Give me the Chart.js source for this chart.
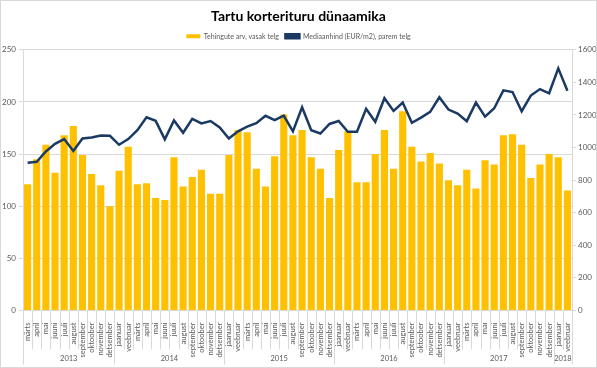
<!DOCTYPE html>
<html>
<head>
<meta charset="utf-8">
<script src="https://cdn.jsdelivr.net/npm/chart.js@4"></script>
<style>
  html, body { margin: 0; padding: 0; background: #ffffff; }
  #c { display: block; }
</style>
</head>
<body>
<canvas id="c" width="597" height="368"></canvas>
<script>
const monthLabels = [
  'märts','april','mai','juuni','juuli','august','september','oktoober','november','detsember',
  'jaanuar','veebruar','märts','april','mai','juuni','juuli','august','september','oktoober','november','detsember',
  'jaanuar','veebruar','märts','april','mai','juuni','juuli','august','september','oktoober','november','detsember',
  'jaanuar','veebruar','märts','april','mai','juuni','juuli','august','september','oktoober','november','detsember',
  'jaanuar','veebruar','märts','april','mai','juuni','juuli','august','september','oktoober','november','detsember',
  'jaanuar','veebruar'
];
const yearLabels = ['2013','2014','2015','2016','2017','2018'];
const yearSpans = [10, 12, 12, 12, 12, 2];

const transactions = [
  121,145,159,132,168,177,149,131,120,100,
  134,157,121,122,108,106,147,119,128,135,112,112,
  149,173,171,136,119,148,188,168,173,147,136,108,
  154,172,123,123,150,173,136,191,157,143,151,141,
  125,120,135,117,144,140,168,169,159,127,140,150,
  147,115
];
const medianPrice = [
  907,913,976,1023,1052,979,1056,1062,1074,1072,
  1017,1052,1107,1186,1164,1050,1166,1091,1176,1148,1163,1124,
  1056,1100,1128,1150,1195,1168,1196,1099,1247,1106,1086,1145,
  1163,1097,1097,1238,1158,1303,1225,1276,1152,1184,1219,1309,
  1233,1209,1162,1276,1190,1241,1351,1341,1223,1319,1359,1333,
  1486,1349
];
const leftTicks = [0, 50, 100, 150, 200, 250];
const rightTicks = [0, 200, 400, 600, 800, 1000, 1200, 1400, 1600];

const FONT = 'Lato, "Open Sans", sans-serif';
const GRID = '#D9D9D9';
const TXT = '#595959';

const yearPlugin = {
  id: 'yearGroups',
  afterDraw(chart) {
    const x = chart.scales.x;
    const ctx = chart.ctx;
    const half = (x.getPixelForValue(1) - x.getPixelForValue(0)) / 2;
    const top = chart.chartArea.bottom;
    const edge = i => x.getPixelForValue(i) - half;
    ctx.save();
    ctx.strokeStyle = GRID;
    ctx.lineWidth = 1;
    for (let i = 0; i <= monthLabels.length; i++) {
      const px = Math.round(edge(i)) + 0.5;
      ctx.beginPath();
      ctx.moveTo(px, top);
      ctx.lineTo(px, top + 39);
      ctx.stroke();
    }
    let start = 0;
    ctx.fillStyle = TXT;
    ctx.font = '7.5px ' + FONT;
    ctx.textAlign = 'center';
    ctx.textBaseline = 'middle';
    const drawSep = i => {
      const px = Math.round(edge(i)) + 0.5;
      ctx.beginPath();
      ctx.moveTo(px, top);
      ctx.lineTo(px, top + 54);
      ctx.stroke();
    };
    drawSep(0);
    yearLabels.forEach((lab, k) => {
      const end = start + yearSpans[k];
      drawSep(end);
      ctx.fillText(lab, (edge(start) + edge(end)) / 2, top + 48);
      start = end;
    });
    ctx.strokeStyle = GRID;
    ctx.strokeRect(0.5, 0.5, chart.width - 1, chart.height - 1);
    ctx.restore();
  }
};

new Chart(document.getElementById('c'), {
  type: 'bar',
  data: {
    labels: monthLabels,
    datasets: [
      {
        type: 'bar',
        label: 'Tehingute arv, vasak telg',
        data: transactions,
        backgroundColor: '#FFC000',
        borderWidth: 0,
        yAxisID: 'y',
        order: 2,
        barPercentage: 0.78,
        categoryPercentage: 1.0
      },
      {
        type: 'line',
        label: 'Mediaanhind (EUR/m2), parem telg',
        data: medianPrice,
        borderColor: '#1B3A63',
        backgroundColor: '#1B3A63',
        borderWidth: 2.5,
        pointRadius: 0,
        tension: 0,
        yAxisID: 'y1',
        order: 1
      }
    ]
  },
  options: {
    responsive: false,
    animation: false,
    layout: { padding: 0 },
    plugins: {
      title: {
        display: true,
        text: 'Tartu korterituru dünaamika',
        color: '#000000',
        font: { family: FONT, size: 14, weight: 'bold' },
        padding: { top: 8, bottom: 1.5 }
      },
      legend: {
        display: true,
        position: 'top',
        labels: {
          color: TXT,
          font: { family: FONT, size: 7 },
          boxWidth: 14,
          boxHeight: 4,
          padding: 6.5,
          sort: (a, b) => a.datasetIndex - b.datasetIndex
        }
      },
      tooltip: { enabled: false }
    },
    scales: {
      x: {
        type: 'category',
        offset: true,
        grid: { display: false },
        border: { display: true, color: GRID },
        ticks: {
          autoSkip: false,
          minRotation: 90,
          maxRotation: 90,
          padding: 4,
          color: TXT,
          font: { family: FONT, size: 7.5 }
        },
        afterFit: s => { s.height = 57.5; }
      },
      y: {
        position: 'left',
        min: 0,
        max: 250,
        afterBuildTicks: s => { s.ticks = leftTicks.map(v => ({ value: v })); },
        grid: { color: GRID, tickLength: 4 },
        border: { display: true, color: GRID },
        ticks: { color: TXT, padding: 3, font: { family: FONT, size: 8 }, callback: v => String(v) },
        afterFit: s => { s.width = 23; }
      },
      y1: {
        position: 'right',
        min: 0,
        max: 1600,
        afterBuildTicks: s => { s.ticks = rightTicks.map(v => ({ value: v })); },
        grid: { drawOnChartArea: false, color: GRID, tickLength: 4 },
        border: { display: true, color: GRID },
        ticks: { color: TXT, padding: 2, font: { family: FONT, size: 8 }, callback: v => String(v) },
        afterFit: s => { s.width = 25; }
      }
    }
  },
  plugins: [yearPlugin]
});
</script>
</body>
</html>
